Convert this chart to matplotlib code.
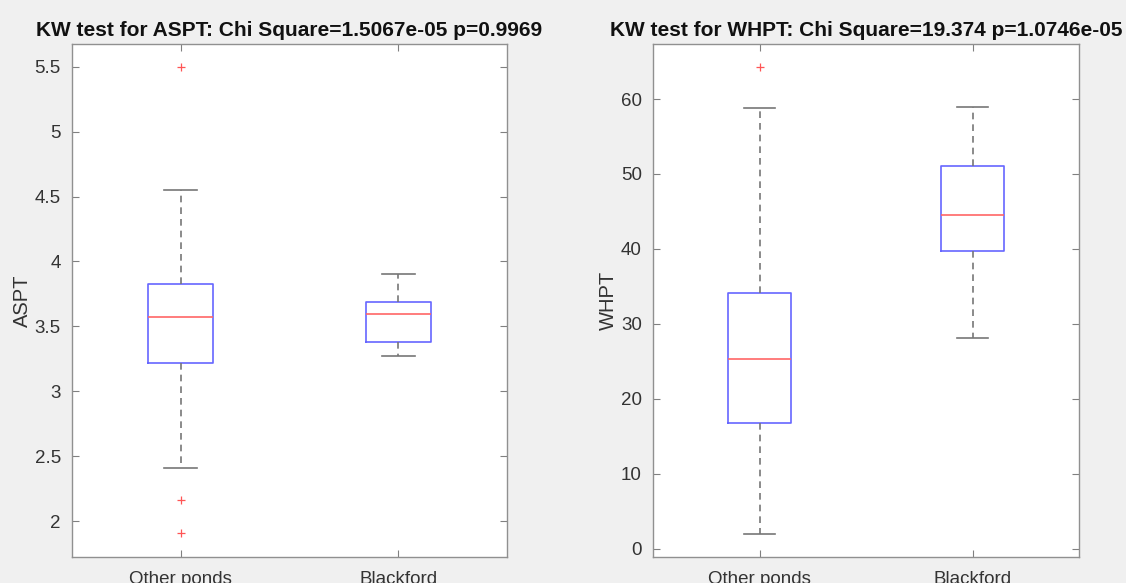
import matplotlib
matplotlib.use("Agg")
import matplotlib.pyplot as plt

plt.rcParams['font.family'] = ['Liberation Sans', 'DejaVu Sans']

groups = ["Other ponds", "Blackford"]

# ASPT box statistics: whisker low, Q1, median, Q3, whisker high
aspt_whislo = [2.405, 3.27]
aspt_q1 = [3.218, 3.379]
aspt_med = [3.572, 3.598]
aspt_q3 = [3.825, 3.685]
aspt_whishi = [4.552, 3.903]
aspt_outliers = [[5.5, 2.165, 1.905], []]

# WHPT box statistics
whpt_whislo = [1.96, 28.07]
whpt_q1 = [16.73, 39.76]
whpt_med = [25.31, 44.52]
whpt_q3 = [34.16, 51.1]
whpt_whishi = [58.8, 58.95]
whpt_outliers = [[64.27], []]

aspt_ticks = [2, 2.5, 3, 3.5, 4, 4.5, 5, 5.5]
aspt_ticklabels = ["2", "2.5", "3", "3.5", "4", "4.5", "5", "5.5"]
whpt_ticks = [0, 10, 20, 30, 40, 50, 60]

title_aspt = "KW test for ASPT: Chi Square=1.5067e-05 p=0.9969"
title_whpt = "KW test for WHPT: Chi Square=19.374 p=1.0746e-05"

fig = plt.figure(figsize=(11.26, 5.83), dpi=100)
fig.patch.set_facecolor('#f0f0f0')

ax1 = fig.add_axes([72/1126, 26/583, 435/1126, 513/583])
ax2 = fig.add_axes([653/1126, 26/583, 426/1126, 513/583])


def draw(ax, wlo, q1, med, q3, whi, outl, title, ylabel, ylim, ticks, ticklabels):
    stats = []
    for i in range(len(groups)):
        stats.append(dict(whislo=wlo[i], q1=q1[i], med=med[i], q3=q3[i],
                          whishi=whi[i], fliers=outl[i], label=groups[i]))
    ax.bxp(stats, positions=[1, 2], widths=0.3, capwidths=0.15,
           boxprops=dict(color='#6666ff', linewidth=1.2),
           medianprops=dict(color='#ff6666', linewidth=1.2),
           whiskerprops=dict(color='#777777', linewidth=1.2, linestyle=(0, (4, 3))),
           capprops=dict(color='#777777', linewidth=1.2),
           flierprops=dict(marker='+', markeredgecolor='#ff5555', markersize=6,
                           markeredgewidth=0.9, linestyle='none'))
    ax.set_xlim(0.5, 2.5)
    ax.set_ylim(*ylim)
    ax.set_yticks(ticks)
    ax.set_yticklabels(ticklabels)
    ax.set_xticks([1, 2])
    ax.set_xticklabels(groups)
    ax.tick_params(direction='in', length=5, width=0.8, color='#808080',
                   labelsize=13.5, labelcolor='#333333', top=True, right=True, pad=8)
    ax.tick_params(axis='x', pad=10)
    for s in ax.spines.values():
        s.set_color('#909090')
        s.set_linewidth(1.0)
    ax.set_facecolor('white')
    ax.set_title(title, fontsize=15, fontweight='bold', color='#111111', pad=6)
    ax.set_ylabel(ylabel, fontsize=14.5, color='#333333', labelpad=2)


draw(ax1, aspt_whislo, aspt_q1, aspt_med, aspt_q3, aspt_whishi, aspt_outliers,
     title_aspt, "ASPT", (1.723, 5.675), aspt_ticks, aspt_ticklabels)
draw(ax2, whpt_whislo, whpt_q1, whpt_med, whpt_q3, whpt_whishi, whpt_outliers,
     title_whpt, "WHPT", (-1.1, 67.34), whpt_ticks, [str(t) for t in whpt_ticks])

fig.savefig("out.png", dpi=100, facecolor=fig.get_facecolor())
